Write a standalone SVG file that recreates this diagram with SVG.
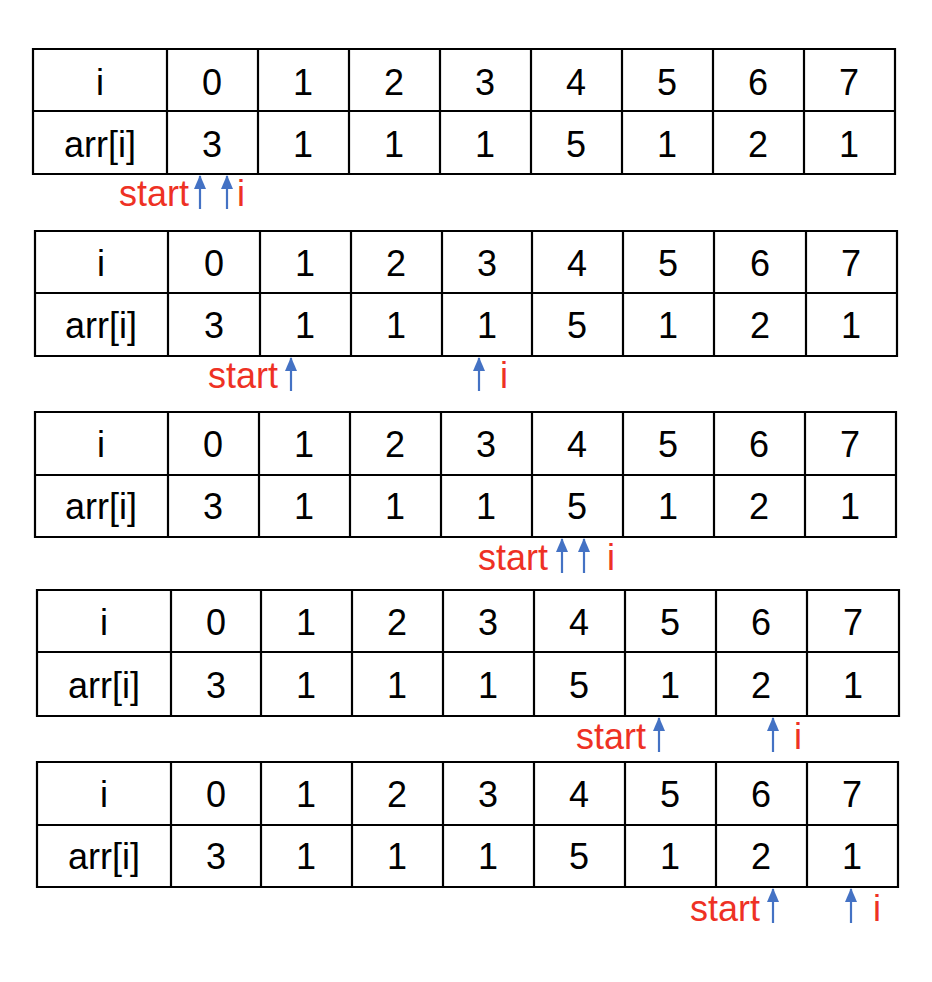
<svg xmlns="http://www.w3.org/2000/svg" width="932" height="982" viewBox="0 0 932 982">
<style>
.grid{fill:none;stroke:#000;stroke-width:2.2}
.t{font-family:"Liberation Sans",Arial,sans-serif;font-size:36px;fill:#000;text-anchor:middle}
.lbl{font-family:"Liberation Sans",Arial,sans-serif;font-size:36px;fill:#EE3124}
.ptr{stroke:#4472C4;stroke-width:2.2;fill:none;marker-end:url(#ah)}
</style>
<defs>
<marker id="ah" markerUnits="userSpaceOnUse" markerWidth="14" markerHeight="12" refX="13" refY="6" orient="auto" viewBox="0 0 14 12">
<path d="M0,0 L14,6 L0,12 Z" fill="#4472C4"/>
</marker>
</defs>
<rect width="932" height="982" fill="#fff"/>

<g id="table1">
<path class="grid" d="M33,49H895V174H33Z M33,111H895 M167,49V174 M258,49V174 M349,49V174 M440,49V174 M531,49V174 M622,49V174 M713,49V174 M804,49V174"/>
<g class="t">
<text x="100" y="95">i</text><text x="212" y="95">0</text><text x="303" y="95">1</text><text x="394" y="95">2</text><text x="485" y="95">3</text><text x="576" y="95">4</text><text x="667" y="95">5</text><text x="758" y="95">6</text><text x="849" y="95">7</text>
<text x="100" y="157">arr[i]</text><text x="212" y="157">3</text><text x="303" y="157">1</text><text x="394" y="157">1</text><text x="485" y="157">1</text><text x="576" y="157">5</text><text x="667" y="157">1</text><text x="758" y="157">2</text><text x="849" y="157">1</text>
</g>
</g>

<g id="table2">
<path class="grid" d="M35,231H897V356H35Z M35,293H897 M168,231V356 M260,231V356 M351,231V356 M442,231V356 M532,231V356 M623,231V356 M714,231V356 M806,231V356"/>
<g class="t">
<text x="101" y="276">i</text><text x="214" y="276">0</text><text x="305" y="276">1</text><text x="396" y="276">2</text><text x="487" y="276">3</text><text x="577" y="276">4</text><text x="668" y="276">5</text><text x="760" y="276">6</text><text x="851" y="276">7</text>
<text x="101" y="338">arr[i]</text><text x="214" y="338">3</text><text x="305" y="338">1</text><text x="396" y="338">1</text><text x="487" y="338">1</text><text x="577" y="338">5</text><text x="668" y="338">1</text><text x="760" y="338">2</text><text x="851" y="338">1</text>
</g>
</g>

<g id="table3">
<path class="grid" d="M35,412H896V537H35Z M35,475H896 M168,412V537 M259,412V537 M350,412V537 M441,412V537 M532,412V537 M623,412V537 M714,412V537 M805,412V537"/>
<g class="t">
<text x="101" y="457">i</text><text x="213" y="457">0</text><text x="304" y="457">1</text><text x="395" y="457">2</text><text x="486" y="457">3</text><text x="577" y="457">4</text><text x="668" y="457">5</text><text x="759" y="457">6</text><text x="850" y="457">7</text>
<text x="101" y="519">arr[i]</text><text x="213" y="519">3</text><text x="304" y="519">1</text><text x="395" y="519">1</text><text x="486" y="519">1</text><text x="577" y="519">5</text><text x="668" y="519">1</text><text x="759" y="519">2</text><text x="850" y="519">1</text>
</g>
</g>

<g id="table4">
<path class="grid" d="M37,590H899V716H37Z M37,652H899 M171,590V716 M261,590V716 M352,590V716 M443,590V716 M534,590V716 M625,590V716 M716,590V716 M807,590V716"/>
<g class="t">
<text x="104" y="635">i</text><text x="216" y="635">0</text><text x="306" y="635">1</text><text x="397" y="635">2</text><text x="488" y="635">3</text><text x="579" y="635">4</text><text x="670" y="635">5</text><text x="761" y="635">6</text><text x="853" y="635">7</text>
<text x="104" y="698">arr[i]</text><text x="216" y="698">3</text><text x="306" y="698">1</text><text x="397" y="698">1</text><text x="488" y="698">1</text><text x="579" y="698">5</text><text x="670" y="698">1</text><text x="761" y="698">2</text><text x="853" y="698">1</text>
</g>
</g>

<g id="table5">
<path class="grid" d="M37,762H898V887H37Z M37,825H898 M171,762V887 M261,762V887 M352,762V887 M443,762V887 M534,762V887 M625,762V887 M716,762V887 M807,762V887"/>
<g class="t">
<text x="104" y="807">i</text><text x="216" y="807">0</text><text x="306" y="807">1</text><text x="397" y="807">2</text><text x="488" y="807">3</text><text x="579" y="807">4</text><text x="670" y="807">5</text><text x="761" y="807">6</text><text x="852" y="807">7</text>
<text x="104" y="869">arr[i]</text><text x="216" y="869">3</text><text x="306" y="869">1</text><text x="397" y="869">1</text><text x="488" y="869">1</text><text x="579" y="869">5</text><text x="670" y="869">1</text><text x="761" y="869">2</text><text x="852" y="869">1</text>
</g>
</g>

<g id="connectors">
<line class="ptr" x1="200" y1="209" x2="200" y2="176"/>
<line class="ptr" x1="227" y1="209" x2="227" y2="176"/>
<line class="ptr" x1="291" y1="391" x2="291" y2="358"/>
<line class="ptr" x1="479" y1="391" x2="479" y2="358"/>
<line class="ptr" x1="562" y1="573" x2="562" y2="539"/>
<line class="ptr" x1="584" y1="573" x2="584" y2="539"/>
<line class="ptr" x1="659" y1="752" x2="659" y2="718"/>
<line class="ptr" x1="773" y1="752" x2="773" y2="718"/>
<line class="ptr" x1="773" y1="923" x2="773" y2="889"/>
<line class="ptr" x1="851" y1="923" x2="851" y2="889"/>
</g>

<g id="labels">
<text class="lbl" x="189" y="206" text-anchor="end">start</text>
<text class="lbl" x="237" y="206">i</text>
<text class="lbl" x="278" y="388" text-anchor="end">start</text>
<text class="lbl" x="500" y="388">i</text>
<text class="lbl" x="548" y="570" text-anchor="end">start</text>
<text class="lbl" x="607" y="570">i</text>
<text class="lbl" x="646" y="749" text-anchor="end">start</text>
<text class="lbl" x="794" y="749">i</text>
<text class="lbl" x="760" y="921" text-anchor="end">start</text>
<text class="lbl" x="873" y="921">i</text>
</g>
</svg>
